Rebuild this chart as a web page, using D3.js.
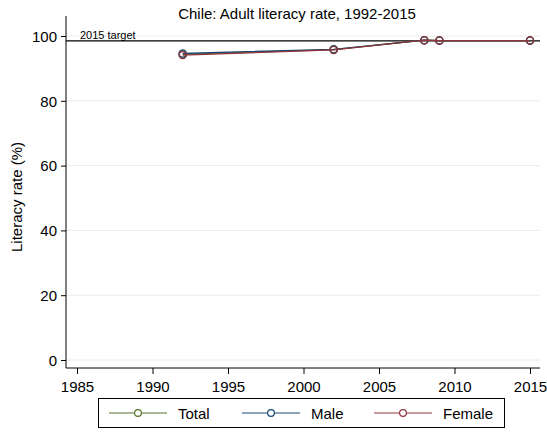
<!DOCTYPE html>
<html><head><meta charset="utf-8">
<script src="https://cdn.jsdelivr.net/npm/d3@7"></script>
<style>body{margin:0;background:#fff}svg{display:block;font-family:"Liberation Sans",Arial,sans-serif}</style>
</head><body>
<svg id="c" width="547" height="433"></svg>
<script>
const years = [1992, 2002, 2008, 2009, 2015];
const total = [94.3, 95.8, 98.7, 98.6, 98.6];
const male = [94.6, 95.9, 98.7, 98.6, 98.6];
const female = [94.1, 95.7, 98.7, 98.6, 98.6];
const target = 98.5;
const xTicks = [1985, 1990, 1995, 2000, 2005, 2010, 2015];
const yTicks = [0, 20, 40, 60, 80, 100];
const seriesNames = ["Total", "Male", "Female"];
const colors = ["#55752f", "#1a476f", "#90353b"];

const svg = d3.select("#c");
const x = d3.scaleLinear().domain([1985, 2015]).range([77, 530]);
const y = d3.scaleLinear().domain([0, 100]).range([360, 36]);
const x0 = 66, x1 = 540, yb = 368;

// gridlines
svg.append("g").selectAll("line").data(yTicks).join("line")
  .attr("x1", x0).attr("x2", x1).attr("y1", d => y(d)).attr("y2", d => y(d))
  .attr("stroke", "#eaeaea").attr("stroke-width", 1);

// axes
const ya = svg.append("g").attr("transform", `translate(${x0},0)`)
  .call(d3.axisLeft(y).tickValues(yTicks).tickSize(5).tickPadding(4));
ya.select(".domain").attr("d", `M0,${yb}V${16}`);
const xa = svg.append("g").attr("transform", `translate(0,${yb})`)
  .call(d3.axisBottom(x).tickValues(xTicks).tickFormat(d3.format("d")).tickSize(6).tickPadding(7));
xa.select(".domain").attr("d", `M${x0},0H${x1}`);
svg.selectAll(".tick text").attr("font-size", 15).attr("fill", "#000").attr("font-family", "Liberation Sans, Arial, sans-serif");
ya.selectAll(".tick text").attr("dy", "0.35em");
svg.selectAll(".domain, .tick line").attr("stroke", "#000");

// target line
svg.append("line").attr("x1", x0).attr("x2", x1).attr("y1", y(target)).attr("y2", y(target))
  .attr("stroke", "#000").attr("stroke-width", 1.2);
svg.append("text").attr("x", 80).attr("y", y(target) - 2).attr("font-size", 11).text("2015 target");

// series
const data = [total, male, female];
data.forEach((vals, i) => {
  const pts = years.map((yr, j) => [yr, vals[j]]);
  svg.append("path").datum(pts)
    .attr("fill", "none").attr("stroke", colors[i]).attr("stroke-width", 1.3)
    .attr("d", d3.line().x(d => x(d[0])).y(d => y(d[1])));
  svg.append("g").selectAll("circle").data(pts).join("circle")
    .attr("cx", d => x(d[0])).attr("cy", d => y(d[1])).attr("r", 3.6)
    .attr("fill", "none").attr("stroke", colors[i]).attr("stroke-width", 1.3);
});

// titles
svg.append("text").attr("x", 297).attr("y", 19).attr("text-anchor", "middle").attr("font-size", 15).text("Chile: Adult literacy rate, 1992-2015");
svg.append("text").attr("transform", "translate(22,197) rotate(-90)").attr("text-anchor", "middle").attr("font-size", 15).text("Literacy rate (%)");

// legend
const lg = svg.append("g");
lg.append("rect").attr("x", 98.5).attr("y", 398.5).attr("width", 406).attr("height", 29)
  .attr("fill", "#fff").attr("stroke", "#000").attr("stroke-width", 1);
const lx = [109, 242, 374];
seriesNames.forEach((n, i) => {
  const cy = 413;
  lg.append("line").attr("x1", lx[i]).attr("x2", lx[i] + 58).attr("y1", cy).attr("y2", cy)
    .attr("stroke", colors[i]).attr("stroke-width", 1.2);
  lg.append("circle").attr("cx", lx[i] + 29).attr("cy", cy).attr("r", 3.4)
    .attr("fill", "#fff").attr("stroke", colors[i]).attr("stroke-width", 1.2);
  lg.append("text").attr("x", lx[i] + 69).attr("y", cy + 5.5).attr("font-size", 15).text(n);
});
</script>
</body></html>
